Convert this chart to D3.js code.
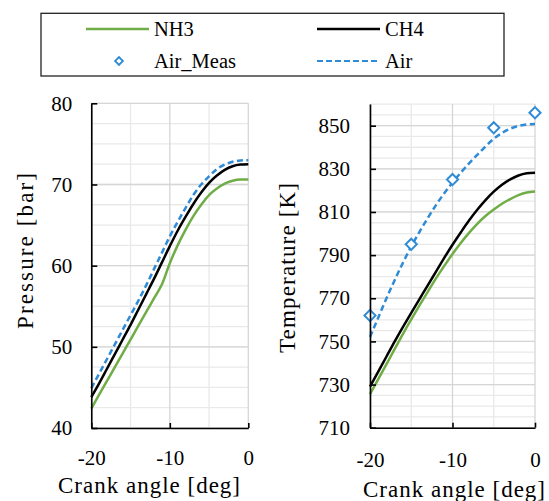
<!DOCTYPE html>
<html>
<head>
<meta charset="utf-8">
<script src="https://cdn.jsdelivr.net/npm/d3@7"></script>
<style>
  body { margin: 0; background: #fff; }
  text { font-family: "Liberation Serif", "Times New Roman", serif; fill: #000; }
</style>
</head>
<body>
<svg id="chart"></svg>
<script>
// crank angle in deg, one point per degree
var crankAngle = [-20,-19,-18,-17,-16,-15,-14,-13,-12,-11,-10,-9,-8,-7,-6,-5,-4,-3,-2,-1,0];

// cylinder pressure [bar]
var pressureNH3 = [42.4,44.1,45.8,47.5,49.2,50.9,52.6,54.3,56.0,57.7,60.3,62.5,64.4,66.1,67.5,68.7,69.5,70.1,70.45,70.6,70.6];
var pressureCH4 = [43.8,45.5,47.3,49.1,50.9,52.7,54.6,56.5,58.4,60.4,62.4,64.3,66.0,67.6,69.0,70.2,71.1,71.8,72.25,72.45,72.5];
var pressureAir = [44.9,46.7,48.5,50.3,52.1,53.9,55.7,57.6,59.6,61.6,63.6,65.4,67.1,68.7,70.0,71.0,71.9,72.45,72.8,72.95,73.0];

// temperature [K]
var tempNH3 = [725.5,732.5,739.5,746.5,753.5,760.2,766.7,773,779.2,785,790.5,795.6,800.3,804.5,808.1,811.1,813.8,816,817.8,819,819.5];
var tempCH4 = [729,736,743,750,756.7,763.2,769.6,776,782.3,788.7,794.8,800.5,806,811,815.5,819.4,822.6,825.1,826.9,827.9,828.2];
var tempAir = [752,761,770,778.5,786.5,794,800.8,807.2,813.2,818.7,823.6,828.2,832.5,836.5,840.4,843.9,846.6,848.6,849.9,850.6,850.8];

// measured air temperature
var measAngle = [-20,-15,-10,-5,0];
var tempAirMeas = [762,795,825,849,856];

// ticks
var angleTicks = [-20,-10,0];
var pressureTicks = [40,50,60,70,80];
var tempTicks = [710,730,750,770,790,810,830,850];

var width = 549, height = 501;
var green = '#70ad47', blue = '#2f8bd6';
var serif = '"Liberation Serif", "Times New Roman", serif';

var svg = d3.select('#chart')
            .attr('width', width)
            .attr('height', height)
            .style('background', '#fff');

function zip(ys){
  return crankAngle.map(function(a, i){ return {x: a, y: ys[i]}; });
}

function panel(opt){
  var xScale = d3.scaleLinear().domain([-20, 0]).range([opt.left, opt.right]);
  var yScale = d3.scaleLinear().domain(opt.domain).range([opt.bottom, opt.top]);
  var g = svg.append('g');

  // gridlines: minor first, then major
  g.selectAll('.hminor').data(opt.minorY).enter().append('line')
   .attr('x1', opt.left).attr('x2', opt.right)
   .attr('y1', function(d){ return yScale(d); }).attr('y2', function(d){ return yScale(d); })
   .attr('stroke', '#e9e9e9').attr('stroke-width', 1.3);
  g.selectAll('.vminor').data([-15, -5]).enter().append('line')
   .attr('x1', function(d){ return xScale(d); }).attr('x2', function(d){ return xScale(d); })
   .attr('y1', opt.top).attr('y2', opt.bottom)
   .attr('stroke', '#e9e9e9').attr('stroke-width', 1.3);
  g.selectAll('.hmajor').data(opt.yTicks).enter().append('line')
   .attr('x1', opt.left).attr('x2', opt.right)
   .attr('y1', function(d){ return yScale(d); }).attr('y2', function(d){ return yScale(d); })
   .attr('stroke', '#d6d6d6').attr('stroke-width', 1.3);
  g.selectAll('.vmajor').data(angleTicks).enter().append('line')
   .attr('x1', function(d){ return xScale(d); }).attr('x2', function(d){ return xScale(d); })
   .attr('y1', opt.top).attr('y2', opt.bottom)
   .attr('stroke', '#d6d6d6').attr('stroke-width', 1.3);

  var line = d3.line()
               .x(function(d){ return xScale(d.x); })
               .y(function(d){ return yScale(d.y); })
               .curve(d3.curveMonotoneX);

  g.append('path').datum(zip(opt.nh3))
   .attr('fill', 'none').attr('stroke', green).attr('stroke-width', 2.5).attr('d', line);
  g.append('path').datum(zip(opt.ch4))
   .attr('fill', 'none').attr('stroke', '#000').attr('stroke-width', 2.5).attr('d', line);
  g.append('path').datum(zip(opt.air))
   .attr('fill', 'none').attr('stroke', blue).attr('stroke-width', 2.5)
   .attr('stroke-dasharray', '6,3.5').attr('d', line);

  if (opt.meas) {
    g.selectAll('.meas').data(opt.meas).enter().append('path')
     .attr('d', d3.symbol().type(d3.symbolSquare).size(62))
     .attr('transform', function(d){ return 'translate(' + xScale(d.x) + ',' + yScale(d.y) + ') rotate(45)'; })
     .attr('fill', '#fff').attr('stroke', blue).attr('stroke-width', 2);
  }

  var fmt = function(d){ return String(d); };
  var yAxis = d3.axisLeft(yScale).tickValues(opt.yTicks).tickFormat(fmt)
                .tickSizeInner(-6).tickSizeOuter(0).tickPadding(opt.yPad);
  var xAxis = d3.axisBottom(xScale).tickValues(angleTicks).tickFormat(fmt)
                .tickSizeInner(-5).tickSizeOuter(0).tickPadding(0);

  var ya = g.append('g').attr('transform', 'translate(' + opt.left + ',0)').call(yAxis);
  var xa = g.append('g').attr('transform', 'translate(0,' + opt.bottom + ')').call(xAxis);
  [ya, xa].forEach(function(a){
    a.select('.domain').attr('stroke', '#000').attr('stroke-width', 1.6);
    a.selectAll('.tick line').attr('stroke', '#000').attr('stroke-width', 1.6);
    a.selectAll('.tick text').style('font-family', serif)
     .style('font-size', '21px').attr('fill', '#000');
  });
  xa.selectAll('.tick text').attr('y', opt.xLabelY).attr('dy', 0);

  g.append('text')
   .attr('transform', 'translate(' + opt.yTitleX + ',' + opt.yTitleY + ') rotate(-90)')
   .attr('text-anchor', 'middle').style('font-family', serif).style('font-size', '23px')
   .attr('textLength', opt.yTitleLen).attr('lengthAdjust', 'spacing')
   .text(opt.yTitle);
  g.append('text')
   .attr('x', opt.xTitleX).attr('y', opt.xTitleY)
   .attr('text-anchor', 'middle').style('font-family', serif).style('font-size', '23px')
   .attr('textLength', 182).attr('lengthAdjust', 'spacing')
   .text('Crank angle [deg]');
}

panel({
  left: 91.3, right: 248.3, top: 103.3, bottom: 428,
  domain: [40, 80], yTicks: pressureTicks, minorY: d3.range(40, 80.1, 2.5),
  nh3: pressureNH3, ch4: pressureCH4, air: pressureAir,
  yPad: 19, xLabelY: 37, yTitle: 'Pressure [bar]', yTitleX: 33, yTitleY: 251, yTitleLen: 156,
  xTitleX: 149, xTitleY: 493
});

panel({
  left: 370, right: 535, top: 104.1, bottom: 427.7,
  domain: [710, 860], yTicks: tempTicks, minorY: d3.range(710, 860.1, 5),
  nh3: tempNH3, ch4: tempCH4, air: tempAir,
  meas: measAngle.map(function(a, i){ return {x: a, y: tempAirMeas[i]}; }),
  yPad: 20, xLabelY: 39, yTitle: 'Temperature [K]', yTitleX: 295, yTitleY: 268, yTitleLen: 170,
  xTitleX: 454, xTitleY: 497
});

// legend
var legend = svg.append('g');
legend.append('rect').attr('x', 41).attr('y', 13.3).attr('width', 463).attr('height', 62.7)
      .attr('fill', '#fff').attr('stroke', '#222').attr('stroke-width', 1.3);

var legendItems = [
  {label: 'NH3', x: 86, y: 29, type: 'line', color: green},
  {label: 'CH4', x: 317, y: 29, type: 'line', color: '#000'},
  {label: 'Air_Meas', x: 86, y: 61, type: 'marker', color: blue},
  {label: 'Air', x: 317, y: 61, type: 'dash', color: blue}
];
legendItems.forEach(function(it){
  if (it.type === 'marker') {
    legend.append('path')
          .attr('d', d3.symbol().type(d3.symbolSquare).size(30))
          .attr('transform', 'translate(' + (it.x + 33) + ',' + it.y + ') rotate(45)')
          .attr('fill', '#fff').attr('stroke', it.color).attr('stroke-width', 1.8);
  } else {
    legend.append('line').attr('x1', it.x).attr('x2', it.x + 63)
          .attr('y1', it.y).attr('y2', it.y)
          .attr('stroke', it.color).attr('stroke-width', it.type === 'dash' ? 2 : 2.5)
          .attr('stroke-dasharray', it.type === 'dash' ? '6,3' : null);
  }
  legend.append('text').attr('x', it.x + 68).attr('y', it.y + 6.7)
        .style('font-family', serif).style('font-size', '20.5px').text(it.label);
});
</script>
</body>
</html>
